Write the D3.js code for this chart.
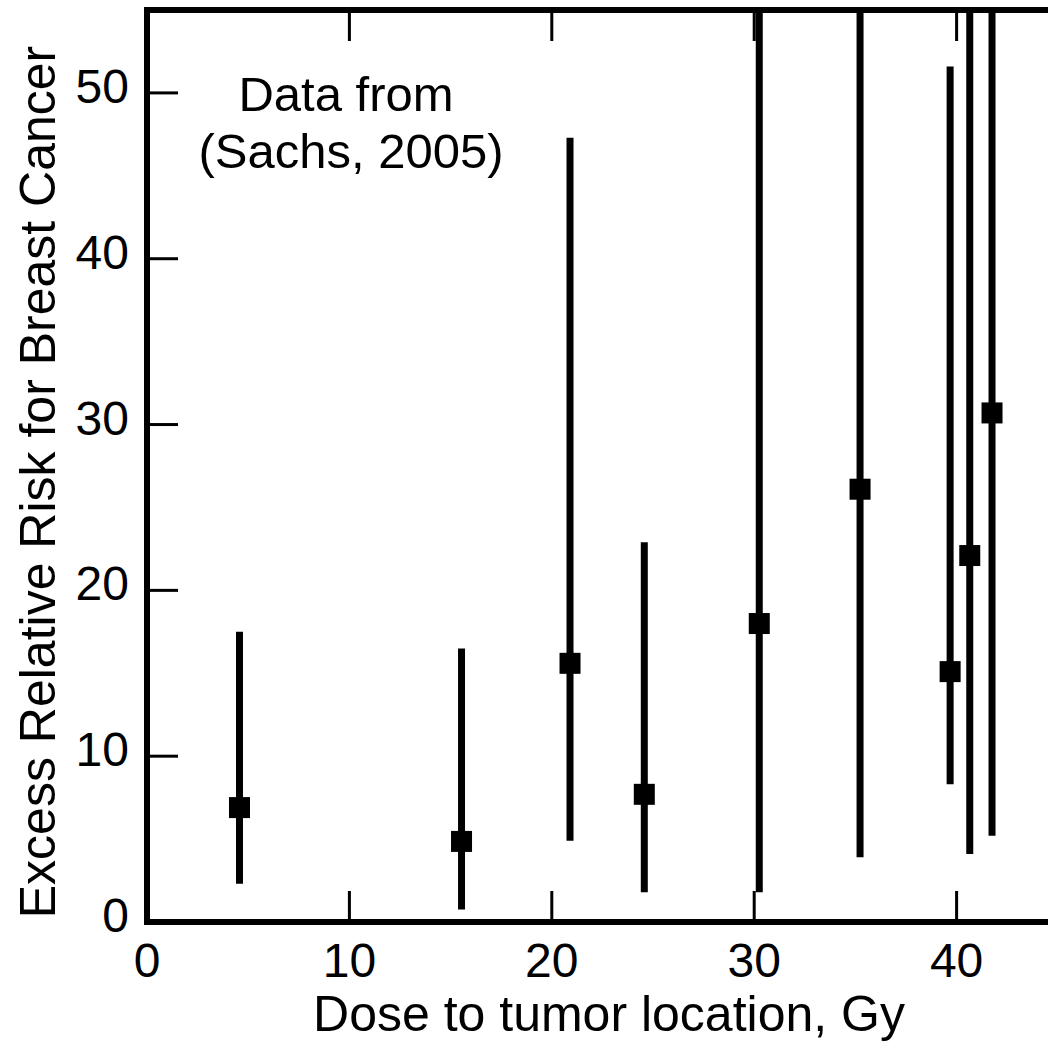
<!DOCTYPE html>
<html lang="en">
<head>
  <meta charset="UTF-8">
  <title>Excess Relative Risk for Breast Cancer vs Dose</title>
  <script src="https://d3js.org/d3.v7.min.js"></script>
  <style>
    body { margin: 0; background: #fff; }
    text { font-family: Arial, "Liberation Sans", sans-serif; fill: #000; }
    .bar { stroke: #000; stroke-width: 7; }
  </style>
</head>
<body>
<script>
  // Data (Sachs, 2005)
  const dose   = [4.57, 15.54, 20.9, 24.57, 30.25, 35.23, 39.68, 40.65, 41.75];
  const err    = [6.9, 4.86, 15.6, 7.7, 18.0, 26.1, 15.1, 22.1, 30.7];
  const lower  = [2.3, 0.75, 4.9, 1.8, 1.8, 3.9, 8.3, 4.1, 5.2];
  const upper  = [17.5, 16.5, 47.3, 22.9, 55, 55, 51.6, 55, 55];
  const xTicks = [0, 10, 20, 30, 40];
  const yTicks = [0, 10, 20, 30, 40, 50];

  const width = 1048, height = 1044;
  const margin = {top: 10, left: 147, bottom: 122};
  const xMax = 45, yMax = 55;
  const pxPerX = 20.24;

  const x = d3.scaleLinear()
    .domain([0, xMax])
    .range([margin.left, margin.left + xMax * pxPerX]);
  const y = d3.scaleLinear()
    .domain([0, yMax])
    .range([height - margin.bottom, margin.top]);

  const svg = d3.select('body').append('svg')
    .attr('width', width)
    .attr('height', height);

  const data = dose.map((d, i) => ({x: d, y: err[i], lo: lower[i], hi: upper[i]}));

  // error bars
  svg.selectAll('line.bar')
    .data(data)
    .join('line')
    .attr('class', 'bar')
    .attr('x1', d => x(d.x))
    .attr('x2', d => x(d.x))
    .attr('y1', d => y(d.lo))
    .attr('y2', d => y(d.hi));

  // square markers
  const sq = 21;
  svg.selectAll('rect.pt')
    .data(data)
    .join('rect')
    .attr('class', 'pt')
    .attr('x', d => x(d.x) - sq / 2)
    .attr('y', d => y(d.y) - sq / 2)
    .attr('width', sq)
    .attr('height', sq)
    .attr('fill', '#000');

  // frame
  const x0 = x(0), x1 = x(xMax), y0 = y(0), y1 = y(yMax);
  svg.append('path')
    .attr('d', `M${x0},${y0}H${x1}V${y1}H${x0}Z`)
    .attr('fill', 'none')
    .attr('stroke', '#000')
    .attr('stroke-width', 6);

  // inward ticks
  const tickLen = 31;
  xTicks.slice(1).forEach(t => {
    svg.append('line')
      .attr('x1', x(t)).attr('x2', x(t))
      .attr('y1', y0).attr('y2', y0 - tickLen)
      .attr('stroke', '#000').attr('stroke-width', 3);
    svg.append('line')
      .attr('x1', x(t)).attr('x2', x(t))
      .attr('y1', y1).attr('y2', y1 + tickLen)
      .attr('stroke', '#000').attr('stroke-width', 3);
  });
  yTicks.slice(1).forEach(t => {
    svg.append('line')
      .attr('x1', x0).attr('x2', x0 + tickLen)
      .attr('y1', y(t)).attr('y2', y(t))
      .attr('stroke', '#000').attr('stroke-width', 3);
  });

  // tick labels
  svg.selectAll('text.xt')
    .data(xTicks)
    .join('text')
    .attr('class', 'xt')
    .attr('x', d => x(d))
    .attr('y', y0 + 55)
    .attr('text-anchor', 'middle')
    .style('font-size', '48px')
    .text(d => d);

  svg.selectAll('text.yt')
    .data(yTicks)
    .join('text')
    .attr('class', 'yt')
    .attr('x', 129)
    .attr('y', d => y(d) + 10)
    .attr('text-anchor', 'end')
    .style('font-size', '48px')
    .text(d => d);

  // axis titles
  svg.append('text')
    .attr('x', (313 + 905) / 2)
    .attr('y', 1031)
    .attr('text-anchor', 'middle')
    .style('font-size', '50px')
    .text('Dose to tumor location, Gy');

  svg.append('text')
    .attr('transform', `translate(55,${(922 + 42) / 2}) rotate(-90)`)
    .attr('text-anchor', 'middle')
    .style('font-size', '50px')
    .text('Excess Relative Risk for Breast Cancer');

  // annotation
  const note = svg.append('text')
    .attr('text-anchor', 'middle')
    .style('font-size', '49px');
  note.append('tspan').attr('x', 346).attr('y', 111).text('Data from');
  note.append('tspan').attr('x', 351).attr('y', 168).text('(Sachs, 2005)');
</script>
</body>
</html>
